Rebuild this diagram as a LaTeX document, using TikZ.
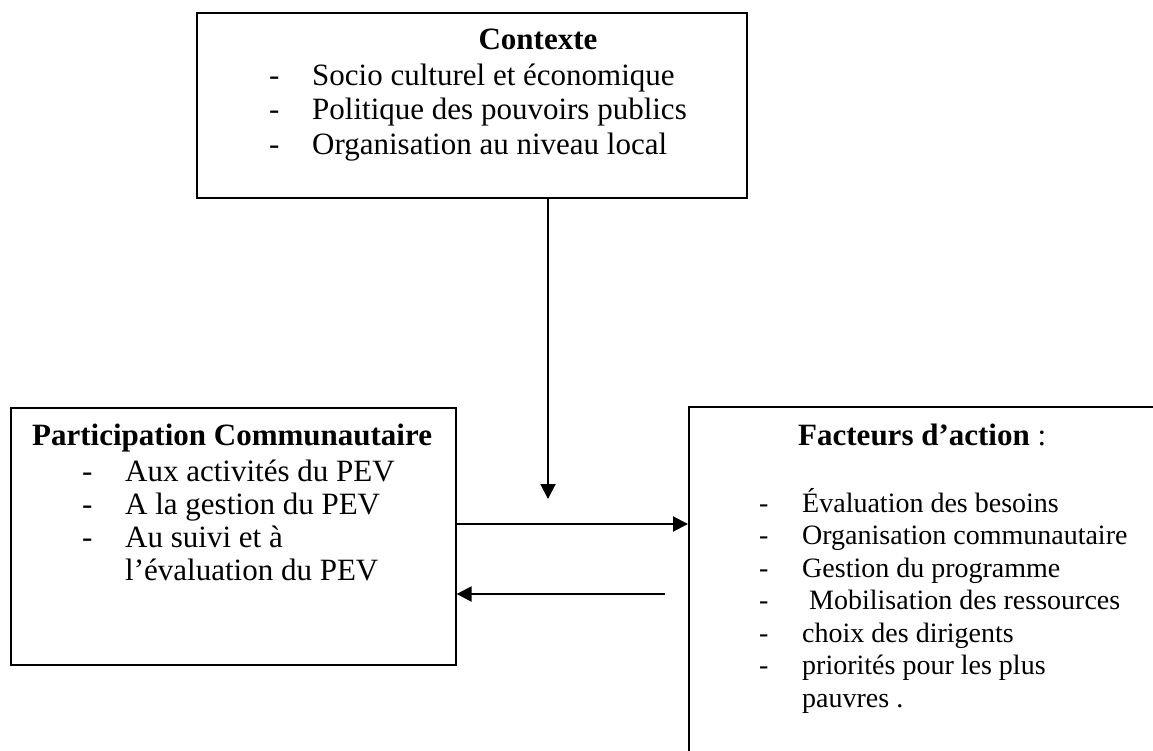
\documentclass[tikz,border=0pt]{standalone}
\usepackage{fontspec}
\setmainfont{Liberation Serif}
\usetikzlibrary{arrows.meta}
\begin{document}
\begin{tikzpicture}[x=1pt,y=-1pt,
 box/.style={draw, line width=1.6pt, inner sep=0pt},
 txt/.style={anchor=base west, inner sep=0pt, font=\fontsize{31}{34}\selectfont},
 stxt/.style={anchor=base west, inner sep=0pt, font=\fontsize{28}{32}\selectfont},
 ttl/.style={txt, font=\fontsize{31}{34}\selectfont\bfseries},
 conn/.style={line width=2pt, -{Triangle[length=15pt,width=15pt]}}]
\useasboundingbox (0,0) rectangle (1153,751);
\clip (0,0) rectangle (1153,751);
% boxes
\node[box, anchor=north west, minimum width=550pt, minimum height=185pt] (ctx) at (196,12) {};
\node[box, anchor=north west, minimum width=445pt, minimum height=257pt] (part) at (10,407) {};
\node[box, anchor=north west, minimum width=520pt, minimum height=400pt] (fac) at (688,406) {};
% context text
\node[ttl, anchor=base] (ctxt) at (538,50) {Contexte};
\node[txt] (cd1) at (269,86) {-}; \node[txt] (c1) at (312,86) {Socio culturel et économique};
\node[txt] (cd2) at (269,120) {-}; \node[txt] (c2) at (312,120) {Politique des pouvoirs publics};
\node[txt] (cd3) at (269,155) {-}; \node[txt] (c3) at (312,155) {Organisation au niveau local};
% participation text
\node[ttl] (pt) at (32,445) {Participation Communautaire};
\node[txt] (pd1) at (82,481) {-}; \node[txt] (p1) at (125,481) {Aux activités du PEV};
\node[txt] (pd2) at (82,514) {-}; \node[txt] (p2) at (125,514) {A la gestion du PEV};
\node[txt] (pd3) at (82,547) {-}; \node[txt] (p3) at (125,547) {Au suivi et à};
\node[txt] (p4) at (125,580) {l’évaluation du PEV};
% facteurs text
\node[txt] (ft) at (798,445) {\textbf{Facteurs d’action} :};
\node[stxt] (fd1) at (759,512) {-}; \node[stxt] (f1) at (802,512) {Évaluation des besoins};
\node[stxt] (fd2) at (759,544.5) {-}; \node[stxt] (f2) at (802,544.5) {Organisation communautaire};
\node[stxt] (fd3) at (759,577) {-}; \node[stxt] (f3) at (802,577) {Gestion du programme};
\node[stxt] (fd4) at (759,609.5) {-}; \node[stxt] (f4) at (802,609.5) {\ Mobilisation des ressources};
\node[stxt] (fd5) at (759,642) {-}; \node[stxt] (f5) at (802,642) {choix des dirigents};
\node[stxt] (fd6) at (759,674.5) {-}; \node[stxt] (f6) at (802,674.5) {priorités pour les plus};
\node[stxt] (f7) at (802,707) {pauvres .};
% connectors
\coordinate (mid) at (548,499);
\coordinate (ra) at (0,524);
\coordinate (lastart) at (665,594);
\draw[conn] (ctx.south -| mid) -- (mid);
\draw[conn] (part.east |- ra) -- (fac.west |- ra);
\draw[conn] (lastart) -- (part.east |- lastart);
\end{tikzpicture}
\end{document}
